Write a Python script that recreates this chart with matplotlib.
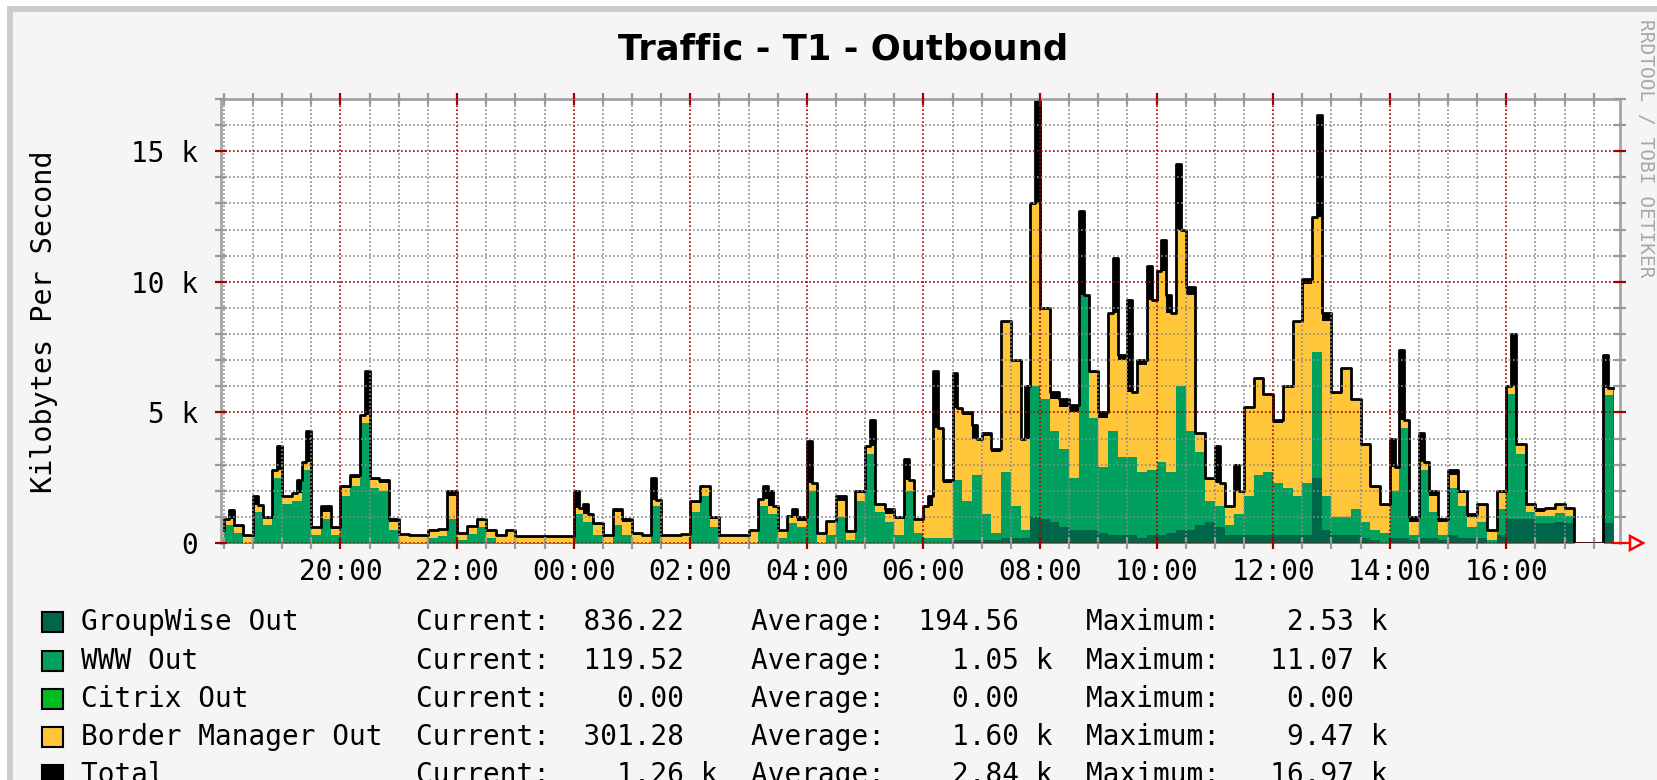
import numpy as np
import matplotlib
matplotlib.use("Agg")
import matplotlib.pyplot as plt
from matplotlib.patches import Rectangle, Polygon
from matplotlib.lines import Line2D

# ---------------- data (thousands of kilobytes per second) ----------------
start_hour = -6.0 - 1.0 / 6.0      # 17:50 of the previous day, hours relative to midnight
step_hours = 1.0 / 6.0             # stacked series: 10-minute steps
total_step_hours = 1.0 / 12.0      # total: 5-minute steps

total = [
    0.5, 0.5, 0.9, 1.25, 0.7, 0.7, 0.3, 0.3, 1.8, 1.45,
    1.0, 1.0, 2.8, 3.7, 1.8, 1.8, 1.9, 2.4, 3.1, 4.3,
    0.6, 0.6, 1.4, 1.4, 0.6, 0.6, 2.2, 2.2, 2.6, 2.6,
    4.9, 6.6, 2.5, 2.5, 2.4, 2.4, 0.9, 0.9, 0.35, 0.35,
    0.3, 0.3, 0.3, 0.3, 0.5, 0.5, 0.55, 0.55, 2.0, 2.0,
    0.4, 0.4, 0.65, 0.65, 0.9, 0.9, 0.5, 0.5, 0.3, 0.3,
    0.5, 0.5, 0.28, 0.28, 0.28, 0.28, 0.28, 0.28, 0.28, 0.28,
    0.28, 0.28, 0.28, 0.28, 2.0, 1.35, 1.5, 1.1, 0.75, 0.75,
    0.3, 0.3, 1.3, 1.3, 0.9, 0.9, 0.4, 0.4, 0.3, 0.3,
    2.5, 1.65, 0.3, 0.3, 0.3, 0.3, 0.35, 0.35, 1.6, 1.6,
    2.2, 2.2, 1.0, 1.0, 0.3, 0.3, 0.3, 0.3, 0.3, 0.3,
    0.5, 0.5, 1.7, 2.2, 2.0, 1.4, 0.5, 0.5, 1.05, 1.3,
    1.0, 1.0, 3.9, 2.3, 0.4, 0.4, 0.85, 0.85, 1.8, 1.8,
    0.45, 0.45, 2.0, 2.0, 3.7, 4.7, 1.5, 1.5, 1.3, 1.3,
    1.0, 1.0, 3.2, 2.4, 0.9, 0.9, 1.4, 1.8, 6.6, 4.4,
    2.4, 2.4, 6.5, 5.15, 5.0, 5.0, 4.5, 4.0, 4.2, 4.2,
    3.6, 3.6, 8.5, 8.5, 7.0, 7.0, 4.0, 6.0, 13.0, 17.0,
    9.0, 9.0, 5.8, 5.8, 5.5, 5.5, 5.3, 5.3, 12.7, 9.5,
    6.6, 6.6, 5.0, 5.0, 8.8, 10.9, 7.2, 7.2, 9.3, 5.8,
    7.0, 7.0, 10.6, 9.3, 10.4, 11.6, 9.5, 8.8, 14.5, 12.0,
    9.8, 9.8, 4.2, 4.2, 2.5, 2.5, 3.7, 2.3, 1.4, 1.4,
    3.0, 2.0, 5.2, 5.2, 6.3, 6.3, 5.7, 5.7, 4.7, 4.7,
    6.0, 6.0, 8.5, 8.5, 10.1, 10.1, 12.5, 16.4, 8.8, 8.8,
    5.8, 5.8, 6.7, 6.7, 5.5, 5.5, 3.8, 3.8, 2.2, 2.2,
    1.5, 1.5, 4.0, 2.9, 7.4, 4.7, 1.0, 1.0, 4.2, 3.1,
    2.0, 2.0, 0.9, 0.9, 2.8, 2.8, 2.0, 2.0, 1.1, 1.1,
    1.5, 1.5, 0.5, 0.5, 2.0, 2.0, 6.0, 8.0, 3.8, 3.8,
    1.5, 1.5, 1.3, 1.3, 1.35, 1.35, 1.5, 1.5, 1.35, 1.35,
    0.0, 0.0, 0.0, 0.0, 0.0, 0.0, 7.2, 5.95,
]

groupwise = [
    0, 0, 0, 0, 0, 0, 0, 0, 0, 0,
    0, 0, 0, 0, 0, 0, 0, 0, 0, 0,
    0, 0, 0, 0, 0, 0, 0, 0, 0, 0,
    0, 0, 0, 0, 0, 0, 0, 0, 0, 0,
    0, 0, 0, 0, 0, 0, 0, 0, 0, 0,
    0, 0, 0, 0, 0, 0, 0, 0, 0, 0,
    0, 0, 0, 0, 0, 0, 0, 0, 0, 0,
    0, 0,
    0, 0, 0, 0, 0.1, 0.1, 0.1, 0.1, 0.1, 0.2,
    0.2, 0.2, 1.0, 0.9, 0.8, 0.6, 0.5, 0.5, 0.5, 0.4,
    0.3, 0.3, 0.3, 0.2, 0.3, 0.3, 0.4, 0.5, 0.5, 0.7,
    0.8, 0.6, 0.3, 0.3, 0.3, 0.3, 0.3, 0.3, 0.3, 0.3,
    0.3, 2.5, 0.5, 0.3, 0.3, 0.3, 0.2, 0.1, 0.0, 0.2,
    0.2, 0.1, 0.2, 0.2, 0.1, 0.3, 0.2, 0.2, 0.2, 0.0,
    0.3, 0.9, 0.9, 0.9, 0.75, 0.75, 0.8, 0.75, 0.0, 0.0,
    0.0, 0.75,
]

www = [
    0.2, 0.7, 0.4, 0, 1.2, 0.7, 2.5, 1.5, 1.6, 2.8,
    0.3, 0.9, 0.3, 1.8, 2.2, 4.6, 2.1, 2.0, 0.5, 0,
    0, 0, 0.2, 0.25, 0.9, 0.1, 0.35, 0.6, 0.2, 0,
    0, 0, 0, 0, 0, 0, 0, 1.1, 0.8, 0.3,
    0, 0.7, 0.3, 0, 0, 1.4, 0, 0, 0, 1.2,
    1.8, 0.6, 0, 0, 0, 0, 1.4, 1.1, 0.2, 0.75,
    0.6, 2.0, 0, 0.3, 1.0, 0.1, 1.6, 3.4, 1.2, 0.8,
    0.3, 2.0,
    0.4, 0.2, 0.2, 0.2, 2.3, 1.5, 2.5, 1.0, 0.3, 2.5,
    1.2, 0.3, 5.0, 4.6, 3.5, 3.0, 2.0, 9.0, 4.3, 2.5,
    4.0, 3.0, 3.0, 2.5, 2.5, 2.8, 2.3, 5.5, 3.8, 2.8,
    0.8, 0.8, 0.4, 0.8, 1.5, 2.3, 2.4, 2.0, 1.8, 1.5,
    2.0, 4.8, 1.3, 0.7, 0.7, 1.0, 0.6, 0.4, 0.4, 1.8,
    4.2, 0.2, 2.6, 1.0, 0.2, 1.8, 1.2, 0.4, 0.6, 0.1,
    1.0, 4.8, 2.5, 0.3, 0.3, 0.3, 0.35, 0.3, 0, 0,
    0, 4.9,
]

citrix = [
    0, 0, 0, 0, 0, 0, 0, 0, 0, 0, 0, 0, 0, 0, 0, 0, 0, 0, 0, 0, 0, 0, 0, 0,
    0, 0, 0, 0, 0, 0, 0, 0, 0, 0, 0, 0, 0, 0, 0, 0, 0, 0, 0, 0, 0, 0, 0, 0,
    0, 0, 0, 0, 0, 0, 0, 0, 0, 0, 0, 0, 0, 0, 0, 0, 0, 0, 0, 0, 0, 0, 0, 0,
    0, 0, 0, 0, 0, 0, 0, 0, 0, 0, 0, 0, 0, 0, 0, 0, 0, 0, 0, 0, 0, 0, 0, 0,
    0, 0, 0, 0, 0, 0, 0, 0, 0, 0, 0, 0, 0, 0, 0, 0, 0, 0, 0, 0, 0, 0, 0, 0,
    0, 0, 0, 0, 0, 0, 0, 0, 0, 0, 0, 0, 0, 0, 0, 0, 0, 0, 0, 0, 0, 0, 0, 0,
]

border_manager = [
    0.25, 0.2, 0.2, 0.25, 0.25, 0.25, 0.3, 0.3, 0.3, 0.3,
    0.3, 0.3, 0.25, 0.3, 0.3, 0.3, 0.3, 0.3, 0.3, 0.3,
    0.25, 0.25, 0.3, 0.3, 0.9, 0.3, 0.25, 0.25, 0.25, 0.25,
    0.45, 0.22, 0.22, 0.22, 0.22, 0.22, 0.22, 0.25, 0.3, 0.4,
    0.25, 0.5, 0.5, 0.3, 0.25, 0.25, 0.25, 0.25, 0.3, 0.35,
    0.35, 0.3, 0.25, 0.25, 0.25, 0.45, 0.3, 0.3, 0.3, 0.3,
    0.25, 0.3, 0.35, 0.5, 0.6, 0.35, 0.3, 0.3, 0.3, 0.3,
    0.6, 0.4,
    0.5, 1.2, 4.2, 2.1, 2.75, 3.3, 1.4, 3.0, 3.1, 5.8,
    5.6, 3.5, 7.0, 3.5, 1.2, 1.6, 2.5, 0.0, 1.7, 1.9,
    4.5, 3.7, 2.5, 4.1, 6.5, 7.3, 6.1, 6.0, 5.2, 0.7,
    0.8, 0.9, 0.7, 0.9, 3.4, 3.7, 3.0, 2.3, 3.9, 6.7,
    7.6, 5.2, 6.7, 4.7, 5.7, 4.2, 2.9, 1.6, 1.0, 0.9,
    0.3, 0.5, 0.3, 0.6, 0.5, 0.5, 0.5, 0.4, 0.6, 0.4,
    0.7, 0.3, 0.4, 0.3, 0.15, 0.25, 0.3, 0.25, 0, 0,
    0, 0.3,
]

series_names = ["GroupWise Out", "WWW Out", "Citrix Out", "Border Manager Out", "Total"]
series_colors = ["#00664a", "#00a05f", "#00bb22", "#ffc63a", "#000000"]

legend_current = ["836.22", "119.52", "0.00", "301.28", "1.26"]
legend_current_unit = [" ", " ", " ", " ", "k"]
legend_average = ["194.56", "1.05", "0.00", "1.60", "2.84"]
legend_average_unit = [" ", "k", " ", "k", "k"]
legend_maximum = ["2.53", "11.07", "0.00", "9.47", "16.97"]
legend_maximum_unit = ["k", "k", " ", "k", "k"]

x_tick_hours = [-4, -2, 0, 2, 4, 6, 8, 10, 12, 14, 16]
x_tick_labels = ["20:00", "22:00", "00:00", "02:00", "04:00", "06:00",
                 "08:00", "10:00", "12:00", "14:00", "16:00"]
y_tick_values = [0, 5, 10, 15]
y_tick_labels = ["0", "5 k", "10 k", "15 k"]

title = "Traffic - T1 - Outbound"
y_label = "Kilobytes Per Second"
side_text = "RRDTOOL / TOBI OETIKER"

# ---------------- figure ----------------
W, H = 1658, 780
fig = plt.figure(figsize=(W / 100, H / 100), dpi=100, facecolor="#f5f5f5")


def fx(px):
    return px / W


def fy(py):
    return 1 - py / H


MONO = "DejaVu Sans Mono"

# outer frame of the screenshot
fig.add_artist(Rectangle((0, 0), fx(7), 1, transform=fig.transFigure,
                         facecolor="white", edgecolor="none", zorder=0))
fig.add_artist(Rectangle((0, fy(6)), 1, 1 - fy(6), transform=fig.transFigure,
                         facecolor="white", edgecolor="none", zorder=0))
fig.add_artist(Rectangle((fx(7), 0), fx(6), fy(6), transform=fig.transFigure,
                         facecolor="#cdcbcd", edgecolor="none", zorder=0))
fig.add_artist(Rectangle((fx(7), fy(12)), 1, fy(6) - fy(12), transform=fig.transFigure,
                         facecolor="#cdcbcd", edgecolor="none", zorder=0))

left, right, top, bottom = 221, 1620, 99, 543
ax = fig.add_axes([fx(left), fy(bottom), fx(right) - fx(left), fy(top) - fy(bottom)])
ax.set_facecolor("white")

n = len(www)
x_edges = start_hour + np.arange(n + 1) * step_hours
nt = len(total)
xt_edges = start_hour + np.arange(nt + 1) * total_step_hours


def ext(a):
    a = np.asarray(a, dtype=float)
    return np.append(a, a[-1])


ax.fill_between(xt_edges, 0, ext(total), step="post", color="black", lw=0, zorder=1.0)
base = np.zeros(n)
for vals, col in zip([groupwise, www, citrix, border_manager], series_colors[:4]):
    v = np.asarray(vals, dtype=float)
    ax.fill_between(x_edges, ext(base), ext(base + v), step="post",
                    color=col, lw=0, zorder=1.1)
    base = base + v
ax.step(xt_edges, ext(total), where="post", color="black", lw=2.0, zorder=1.5)

ax.set_xlim(-6.05, 17.95)
ax.set_ylim(0, 17)

ax.set_xticks(x_tick_hours)
ax.set_xticklabels(x_tick_labels, family=MONO, fontsize=20)
ax.set_xticks(np.arange(-6.0, 18.0, 0.5), minor=True)
ax.set_yticks(y_tick_values)
ax.set_yticklabels(y_tick_labels, family=MONO, fontsize=20)
ax.set_yticks(np.arange(0, 17.5, 1.0), minor=True)

ax.set_axisbelow(False)
ax.grid(which="minor", color="#8a8a8a", linestyle=(0, (1, 1.4)), linewidth=1.2)
ax.grid(which="major", color="#a00000", linestyle=(0, (1, 1.4)), linewidth=1.2)

ax.tick_params(which="major", direction="inout", length=9, width=1.6, color="#a00000",
               top=True, right=True, labeltop=False, labelright=False, labelcolor="black")
ax.tick_params(axis="y", which="major", pad=12)
ax.tick_params(axis="x", which="major", pad=6)
ax.tick_params(which="minor", direction="inout", length=9, width=1.6, color="#9a9a9a",
               top=True, right=True)

for s in ["left", "top", "right"]:
    ax.spines[s].set_color("#a6a6a6")
    ax.spines[s].set_linewidth(2.0)
ax.spines["bottom"].set_visible(False)

# x-axis arrow
fig.add_artist(Line2D([fx(1612), fx(1630)], [fy(543), fy(543)], transform=fig.transFigure,
                      color="#ff0000", lw=1.5))
fig.add_artist(Polygon([[fx(1630), fy(536)], [fx(1630), fy(550)], [fx(1643), fy(543)]],
                       closed=True, transform=fig.transFigure, facecolor="none",
                       edgecolor="#ff0000", lw=1.8))

# title
fig.text(fx(843), fy(49), title, ha="center", va="center", fontsize=25.5,
         family="DejaVu Sans", weight="bold")

# y label
fig.text(fx(44), fy(322), y_label, rotation=90, ha="center", va="center",
         family=MONO, fontsize=20.5)

# side text
fig.text(fx(1646), fy(148), side_text, rotation=270, ha="center", va="center",
         family=MONO, fontsize=14, color="#a8a8a8")

# legend
row_y = [622, 661, 699, 737, 775]
for i, name in enumerate(series_names):
    y = row_y[i]
    fig.add_artist(Rectangle((fx(42), fy(y + 10)), fx(21), fy(y - 10) - fy(y + 10),
                             transform=fig.transFigure, facecolor=series_colors[i],
                             edgecolor="black", lw=1.5))
    line = (f"{name:<20}Current:{legend_current[i]:>8} {legend_current_unit[i]}  "
            f"Average:{legend_average[i]:>8} {legend_average_unit[i]}  "
            f"Maximum:{legend_maximum[i]:>8} {legend_maximum_unit[i]}")
    fig.text(fx(81), fy(y), line, ha="left", va="center", family=MONO, fontsize=20)

fig.savefig("out.png", dpi=100, facecolor=fig.get_facecolor())
